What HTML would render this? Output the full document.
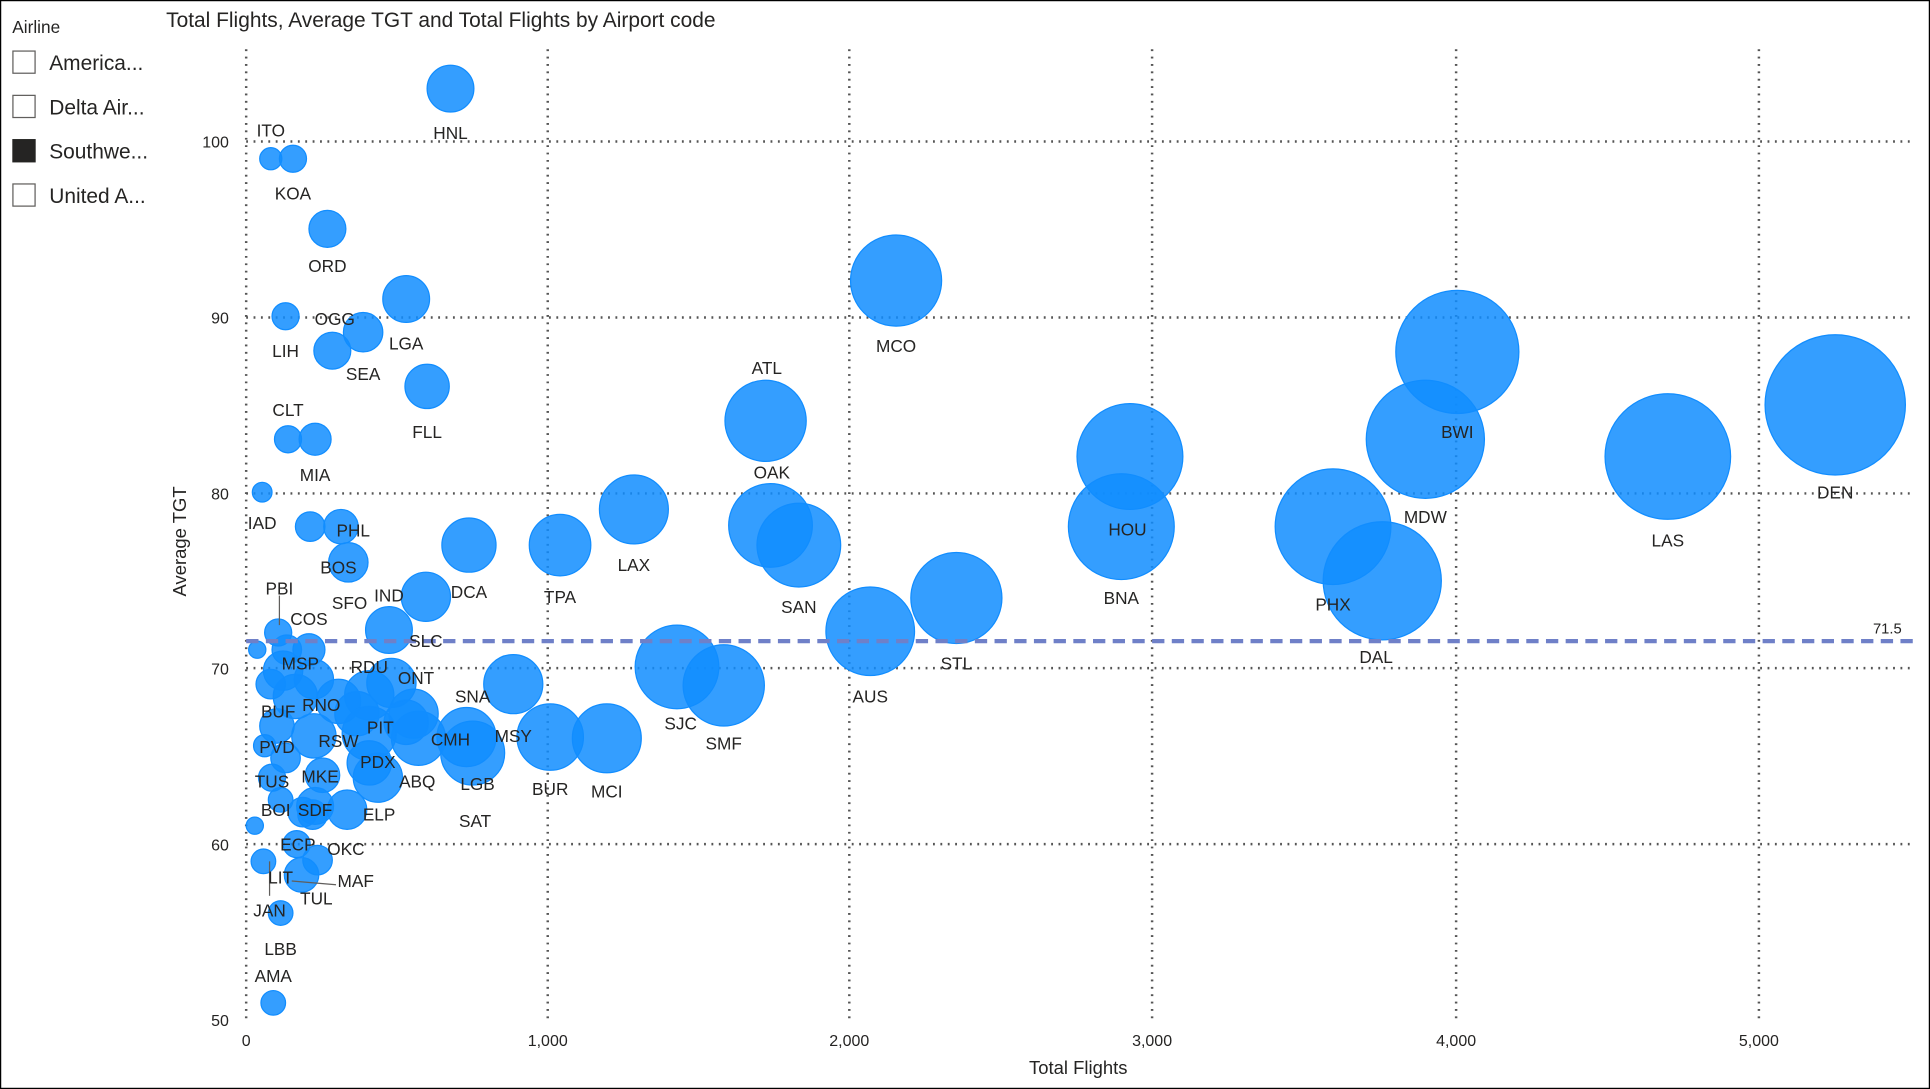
<!DOCTYPE html>
<html><head><meta charset="utf-8"><style>
html,body{margin:0;padding:0;background:#fff}
svg{display:block}
text{font-family:"Liberation Sans","DejaVu Sans",sans-serif;fill:#252423}
</style></head><body>
<svg width="1930" height="1089" viewBox="0 0 1568 885" preserveAspectRatio="none" xmlns="http://www.w3.org/2000/svg">
<rect x="0.5" y="0.5" width="1567" height="884" fill="#fff" stroke="#000" stroke-width="1"/>
<text x="10" y="27" font-size="14">Airline</text>
<g font-size="17">
<rect x="10.5" y="41.5" width="18" height="18" fill="#fff" stroke="#605e5c"/><text x="40" y="57">America...</text>
<rect x="10.5" y="77.5" width="18" height="18" fill="#fff" stroke="#605e5c"/><text x="40" y="93">Delta Air...</text>
<rect x="10.5" y="113.5" width="18" height="18" fill="#252423" stroke="#252423"/><text x="40" y="129">Southwe...</text>
<rect x="10.5" y="149.5" width="18" height="18" fill="#fff" stroke="#605e5c"/><text x="40" y="165">United A...</text>
</g>
<text x="135" y="22" font-size="17">Total Flights, Average TGT and Total Flights by Airport code</text>
<g stroke="#555" stroke-width="2" stroke-dasharray="1.5,4.5" fill="none">
<line x1="200" y1="115" x2="1555" y2="115"/><line x1="200" y1="258" x2="1555" y2="258"/><line x1="200" y1="401" x2="1555" y2="401"/><line x1="200" y1="543" x2="1555" y2="543"/><line x1="200" y1="686" x2="1555" y2="686"/>
<line x1="200" y1="40" x2="200" y2="829"/><line x1="445" y1="40" x2="445" y2="829"/><line x1="690" y1="40" x2="690" y2="829"/><line x1="936" y1="40" x2="936" y2="829"/><line x1="1183" y1="40" x2="1183" y2="829"/><line x1="1429" y1="40" x2="1429" y2="829"/>
</g>
<g font-size="13" fill="#605e5c" text-anchor="end">
<text x="186" y="120">100</text><text x="186" y="263">90</text><text x="186" y="406">80</text><text x="186" y="548">70</text><text x="186" y="691">60</text><text x="186" y="834">50</text>
</g>
<g font-size="13" text-anchor="middle">
<text x="200" y="850">0</text><text x="445" y="850">1,000</text><text x="690" y="850">2,000</text><text x="936" y="850">3,000</text><text x="1183" y="850">4,000</text><text x="1429" y="850">5,000</text>
</g>
<text x="876" y="873" font-size="15" text-anchor="middle">Total Flights</text>
<text transform="translate(151,440) rotate(-90)" font-size="15" text-anchor="middle">Average TGT</text>
<g fill="#118DFF" fill-opacity="0.85" stroke="#118DFF" stroke-width="1">
<circle cx="366" cy="72" r="19"/><circle cx="220" cy="129" r="9"/><circle cx="238" cy="129" r="11"/><circle cx="266" cy="186" r="15"/>
<circle cx="232" cy="257" r="11"/><circle cx="295" cy="270" r="16"/><circle cx="270" cy="285" r="15"/><circle cx="330" cy="243" r="19"/><circle cx="347" cy="314" r="18"/>
<circle cx="234" cy="357" r="11"/><circle cx="256" cy="357" r="13"/><circle cx="213" cy="400" r="8"/><circle cx="252" cy="428" r="12"/><circle cx="277" cy="428" r="14"/><circle cx="283" cy="457" r="16"/>
<circle cx="346" cy="485" r="20"/><circle cx="381" cy="443" r="22"/><circle cx="455" cy="443" r="25"/><circle cx="515" cy="414" r="28"/>
<circle cx="622" cy="342" r="33"/><circle cx="626" cy="427" r="34"/><circle cx="649" cy="443" r="34"/><circle cx="728" cy="228" r="37"/>
<circle cx="707" cy="513" r="36"/><circle cx="777" cy="486" r="37"/><circle cx="550" cy="542" r="34"/><circle cx="588" cy="557" r="33"/>
<circle cx="918" cy="371" r="43"/><circle cx="911" cy="428" r="43"/><circle cx="1083" cy="428" r="47"/><circle cx="1123" cy="472" r="48"/>
<circle cx="1158" cy="357" r="48"/><circle cx="1184" cy="286" r="50"/><circle cx="1355" cy="371" r="51"/><circle cx="1491" cy="329" r="57"/>
<circle cx="417" cy="556" r="24"/><circle cx="447" cy="599" r="27"/><circle cx="493" cy="600" r="28"/><circle cx="384" cy="612" r="26"/><circle cx="379" cy="599" r="24"/>
<circle cx="340" cy="600" r="22"/><circle cx="336" cy="580" r="20"/><circle cx="316" cy="512" r="19"/><circle cx="318" cy="555" r="20"/><circle cx="330" cy="587" r="18"/>
<circle cx="226" cy="514" r="11"/><circle cx="251" cy="528" r="13"/><circle cx="209" cy="528" r="7"/><circle cx="233" cy="528" r="12"/>
<circle cx="230" cy="545" r="16"/><circle cx="255" cy="552" r="16"/><circle cx="220" cy="556" r="12"/><circle cx="240" cy="566" r="18"/><circle cx="275" cy="570" r="18"/>
<circle cx="300" cy="565" r="20"/><circle cx="290" cy="580" r="18"/><circle cx="225" cy="590" r="14"/><circle cx="255" cy="598" r="18"/><circle cx="300" cy="596" r="22"/>
<circle cx="215" cy="606" r="9"/><circle cx="232" cy="616" r="12"/><circle cx="262" cy="630" r="14"/><circle cx="300" cy="620" r="18"/><circle cx="307" cy="632" r="20"/>
<circle cx="221" cy="632" r="11"/><circle cx="228" cy="650" r="10"/><circle cx="256" cy="655" r="15"/><circle cx="246" cy="660" r="12"/><circle cx="282" cy="658" r="16"/>
<circle cx="254" cy="662" r="12"/><circle cx="207" cy="671" r="7"/><circle cx="241" cy="686" r="11"/><circle cx="258" cy="699" r="12"/>
<circle cx="214" cy="700" r="10"/><circle cx="245" cy="711" r="14"/><circle cx="228" cy="742" r="10"/><circle cx="222" cy="815" r="10"/>
</g>
<line x1="200" y1="521" x2="1555" y2="521" stroke="#6f80c8" stroke-width="3.5" stroke-dasharray="10,6"/>
<text x="1545" y="515" font-size="12" text-anchor="end">71.5</text>
<g stroke="#605e5c" stroke-width="1">
<line x1="227" y1="484" x2="227" y2="508"/><line x1="219" y1="700" x2="219" y2="728"/><line x1="237" y1="716" x2="273" y2="719"/>
</g>
<g font-size="14" text-anchor="middle">
<text x="366" y="113">HNL</text><text x="220" y="111">ITO</text><text x="238" y="162">KOA</text><text x="266" y="221">ORD</text>
<text x="232" y="290">LIH</text><text x="272" y="264">OGG</text><text x="295" y="309">SEA</text><text x="330" y="284">LGA</text><text x="347" y="356">FLL</text>
<text x="234" y="338">CLT</text><text x="256" y="391">MIA</text><text x="213" y="430">IAD</text><text x="287" y="436">PHL</text><text x="275" y="466">BOS</text>
<text x="284" y="495">SFO</text><text x="316" y="489">IND</text><text x="381" y="486">DCA</text><text x="455" y="490">TPA</text><text x="515" y="464">LAX</text>
<text x="623" y="304">ATL</text><text x="627" y="389">OAK</text><text x="649" y="498">SAN</text><text x="728" y="286">MCO</text><text x="707" y="571">AUS</text>
<text x="777" y="544">STL</text><text x="553" y="593">SJC</text><text x="588" y="609">SMF</text><text x="916" y="435">HOU</text><text x="911" y="491">BNA</text>
<text x="1083" y="496">PHX</text><text x="1118" y="539">DAL</text><text x="1158" y="425">MDW</text><text x="1184" y="356">BWI</text><text x="1355" y="444">LAS</text><text x="1491" y="405">DEN</text>
<text x="417" y="603">MSY</text><text x="447" y="646">BUR</text><text x="493" y="648">MCI</text><text x="388" y="642">LGB</text><text x="386" y="672">SAT</text>
<text x="384" y="571">SNA</text><text x="366" y="606">CMH</text><text x="338" y="556">ONT</text><text x="346" y="526">SLC</text>
<text x="227" y="483">PBI</text><text x="251" y="508">COS</text><text x="244" y="544">MSP</text><text x="300" y="547">RDU</text>
<text x="226" y="583">BUF</text><text x="261" y="578">RNO</text><text x="225" y="612">PVD</text><text x="275" y="607">RSW</text><text x="309" y="596">PIT</text>
<text x="221" y="640">TUS</text><text x="260" y="636">MKE</text><text x="307" y="624">PDX</text><text x="339" y="640">ABQ</text>
<text x="224" y="663">BOI</text><text x="256" y="663">SDF</text><text x="308" y="667">ELP</text><text x="281" y="695">OKC</text><text x="242" y="691">ECP</text>
<text x="228" y="718">LIT</text><text x="289" y="721">MAF</text><text x="257" y="735">TUL</text><text x="219" y="745">JAN</text><text x="228" y="776">LBB</text><text x="222" y="798">AMA</text>
</g>
</svg>
</body></html>
